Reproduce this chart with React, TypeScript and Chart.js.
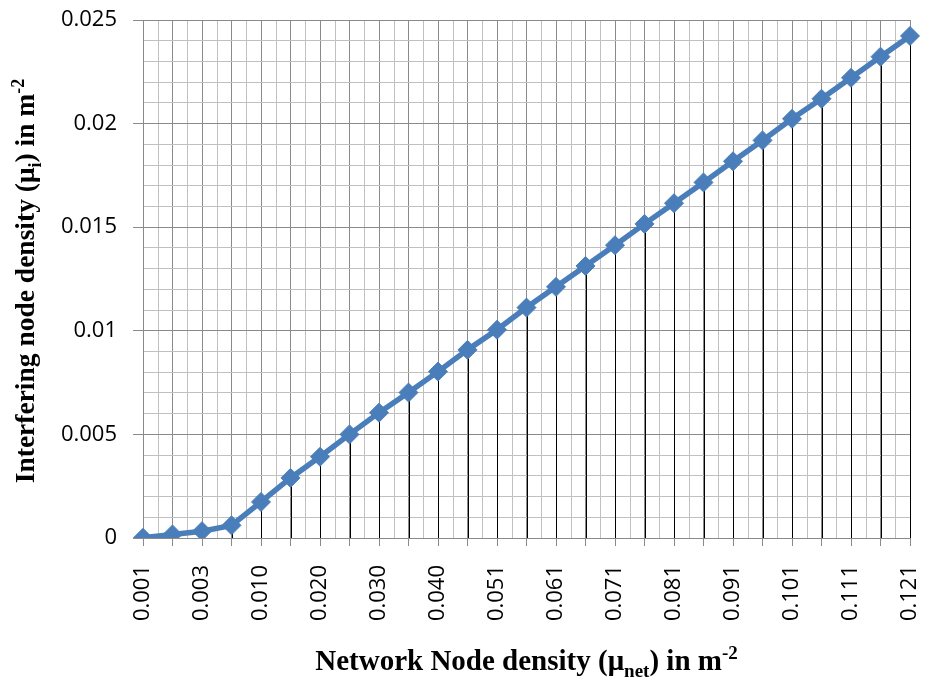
import { useEffect, useRef } from 'react';
import { Chart, registerables } from 'chart.js';

Chart.register(...registerables);

// Network node density categories (x axis)
const categories = [
  '0.001', '0.002', '0.003', '0.005', '0.010', '0.015', '0.020', '0.025', '0.030',
  '0.035', '0.040', '0.045', '0.051', '0.056', '0.061', '0.066', '0.071', '0.076',
  '0.081', '0.086', '0.091', '0.096', '0.101', '0.106', '0.111', '0.116', '0.121',
];

// Interfering node density values (y axis)
const interferingDensity = [
  0.00001, 0.00017, 0.00033, 0.00061, 0.00174, 0.0029, 0.00392, 0.005, 0.00605,
  0.00702, 0.00803, 0.00908, 0.01005, 0.01112, 0.01212, 0.01313, 0.01413, 0.01516,
  0.01616, 0.01716, 0.01818, 0.01919, 0.02023, 0.0212, 0.02221, 0.02323, 0.02423,
];

// Major y tick labels (every 0.005)
const yTickLabels = ['0', '0.005', '0.01', '0.015', '0.02', '0.025'];
const yMin = 0;
const yMax = 0.025;
const yMinorStep = 0.001;

type Part = { t: string; kind: 'n' | 'sub' | 'sup' };
const xTitleParts: Part[] = [
  { t: 'Network Node density (μ', kind: 'n' },
  { t: 'net', kind: 'sub' },
  { t: ') in m', kind: 'n' },
  { t: '-2', kind: 'sup' },
];
const yTitleParts: Part[] = [
  { t: 'Interfering node density (μ', kind: 'n' },
  { t: 'i', kind: 'sub' },
  { t: ') in m', kind: 'n' },
  { t: '-2', kind: 'sup' },
];

const MAJOR = '#8a8a8a';
const MINOR = '#c0c0c0';
const LINE = '#4A7EBB';

function drawRich(
  ctx: CanvasRenderingContext2D,
  parts: Part[],
  cx: number,
  cy: number,
  rotate: boolean,
  size: number
) {
  ctx.save();
  ctx.translate(cx, cy);
  if (rotate) ctx.rotate(-Math.PI / 2);
  const small = Math.round(size * 0.66);
  const fontFor = (k: string) =>
    k === 'n' ? `bold ${size}px "Liberation Serif"` : `bold ${small}px "Liberation Serif"`;
  const widths = parts.map((p) => {
    ctx.font = fontFor(p.kind);
    return ctx.measureText(p.t).width;
  });
  const total = widths.reduce((a, b) => a + b, 0);
  let x = -total / 2;
  ctx.textAlign = 'left';
  ctx.textBaseline = 'alphabetic';
  ctx.fillStyle = '#000';
  parts.forEach((p, i) => {
    ctx.font = fontFor(p.kind);
    const dy = p.kind === 'sub' ? size * 0.24 : p.kind === 'sup' ? -size * 0.38 : 0;
    ctx.fillText(p.t, x, dy);
    x += widths[i];
  });
  ctx.restore();
}

const isMajorY = (v: number) => Math.round(v * 1000) % 5 === 0;

const decorPlugin = {
  id: 'decor',
  beforeDraw(chart: any) {
    const { ctx, chartArea } = chart;
    const xs = chart.scales.x;
    ctx.save();
    ctx.strokeStyle = MINOR;
    ctx.lineWidth = 1;
    for (let i = 0; i < categories.length - 1; i++) {
      const x = Math.round((xs.getPixelForValue(i) + xs.getPixelForValue(i + 1)) / 2) + 0.5;
      ctx.beginPath();
      ctx.moveTo(x, chartArea.top);
      ctx.lineTo(x, chartArea.bottom);
      ctx.stroke();
    }
    ctx.restore();
  },
  beforeDatasetsDraw(chart: any) {
    const { ctx, chartArea } = chart;
    const meta = chart.getDatasetMeta(0);
    ctx.save();
    ctx.strokeStyle = '#000';
    ctx.lineWidth = 1;
    meta.data.forEach((pt: any) => {
      const x = Math.round(pt.x) + 0.5;
      ctx.beginPath();
      ctx.moveTo(x, pt.y);
      ctx.lineTo(x, chartArea.bottom);
      ctx.stroke();
    });
    ctx.restore();
  },
  afterDraw(chart: any) {
    const { ctx, chartArea } = chart;
    drawRich(ctx, xTitleParts, (chartArea.left + chartArea.right) / 2, 670, false, 29);
    drawRich(ctx, yTitleParts, 34, 281, true, 27.5);
  },
};

const zeroPad = (s: any) => {
  s.paddingTop = 0;
  s.paddingBottom = 0;
  s.paddingLeft = 0;
  s.paddingRight = 0;
};

export default function App() {
  const ref = useRef<HTMLCanvasElement>(null);
  useEffect(() => {
    if (!ref.current) return;
    const chart = new Chart(ref.current, {
      type: 'line',
      data: {
        labels: categories,
        datasets: [
          {
            data: interferingDensity,
            borderColor: LINE,
            backgroundColor: LINE,
            borderWidth: 5.5,
            pointStyle: 'rectRot',
            pointRadius: 9.5,
            pointBorderWidth: 1,
            pointBackgroundColor: LINE,
            pointBorderColor: LINE,
            tension: 0,
          },
        ],
      },
      options: {
        animation: false,
        responsive: true,
        maintainAspectRatio: false,
        layout: { padding: { top: 20, right: 15, left: 0, bottom: 0 } },
        plugins: { legend: { display: false }, tooltip: { enabled: false } },
        scales: {
          x: {
            type: 'category',
            offset: false,
            grid: { color: MAJOR, tickColor: MAJOR, tickLength: 8, offset: false },
            border: { color: MAJOR, width: 1 },
            ticks: {
              autoSkip: false,
              maxRotation: 90,
              minRotation: 90,
              padding: 19,
              color: '#000',
              font: { family: '"Open Sans"', size: 22 },
              callback: (_v: any, i: number) => (i % 2 === 0 ? categories[i] : ''),
            },
            afterFit: (s: any) => {
              s.height = 145;
              zeroPad(s);
            },
          },
          y: {
            min: yMin,
            max: yMax,
            grid: {
              color: (c: any) => (c.tick && isMajorY(c.tick.value) ? MAJOR : MINOR),
              tickColor: (c: any) => (c.tick && isMajorY(c.tick.value) ? MAJOR : 'rgba(0,0,0,0)'),
              tickLength: 10,
            },
            border: { color: MAJOR, width: 1 },
            ticks: {
              stepSize: yMinorStep,
              autoSkip: false,
              padding: 16,
              color: '#000',
              font: { family: '"Open Sans"', size: 22 },
              callback: (v: any) => {
                const n = Number(v);
                return isMajorY(n) ? yTickLabels[Math.round(n / 0.005)] : '';
              },
            },
            afterFit: (s: any) => {
              s.width = 143;
              zeroPad(s);
            },
          },
        },
      },
      plugins: [decorPlugin],
    });
    return () => chart.destroy();
  }, []);
  return (
    <div style={{ position: 'fixed', left: 0, top: 0, width: 925, height: 683, background: '#fff' }}>
      <canvas ref={ref} />
    </div>
  );
}
